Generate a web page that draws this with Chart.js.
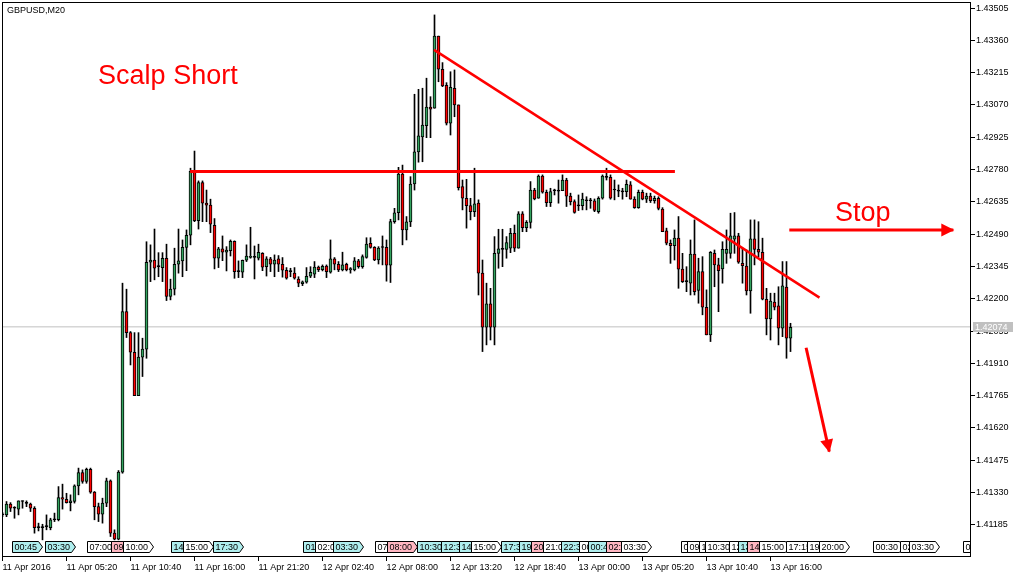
<!DOCTYPE html>
<html>
<head>
<meta charset="utf-8">
<title>GBPUSD,M20</title>
<script src="https://cdn.jsdelivr.net/npm/chart.js@4.4.1/dist/chart.umd.min.js"></script>
<style>
  html, body { margin: 0; padding: 0; background: #fff; }
  #wrap { width: 1023px; height: 578px; }
</style>
</head>
<body>
<div id="wrap"><canvas id="chart" width="1023" height="578"></canvas></div>
<script>
const symbolName = "GBPUSD,M20";

// one candle every 20 minutes, starting 11 Apr 2016 00:00
const openP = [
  1.41232,1.41230,1.41278,1.41262,1.41256,1.41291,1.41283,1.41278,1.41260,1.41174,
  1.41173,1.41177,1.41173,1.41208,1.41208,1.41308,1.41300,1.41285,1.41290,1.41360,
  1.41420,1.41380,1.41435,1.41332,1.41267,1.41233,1.41283,1.41383,1.41148,1.41121,
  1.41422,1.42142,1.42048,1.41960,1.41765,1.41938,1.41974,1.42364,1.42374,1.42344,
  1.42340,1.42382,1.42210,1.42243,1.42355,1.42370,1.42431,1.42485,1.42772,1.42551,
  1.42721,1.42629,1.42620,1.42530,1.42382,1.42424,1.42409,1.42416,1.42458,1.42322,
  1.42319,1.42373,1.42386,1.42387,1.42382,1.42404,1.42344,1.42379,1.42355,1.42379,
  1.42355,1.42328,1.42322,1.42315,1.42288,1.42268,1.42274,1.42301,1.42310,1.42342,
  1.42331,1.42347,1.42319,1.42379,1.42355,1.42330,1.42355,1.42330,1.42330,1.42370,
  1.42344,1.42386,1.42449,1.42431,1.42374,1.42430,1.42431,1.42351,1.42546,1.42586,
  1.42760,1.42509,1.42545,1.42715,1.42859,1.42926,1.42977,1.43060,1.43056,1.43379,
  1.43230,1.43158,1.42988,1.43145,1.43070,1.42703,1.42651,1.42618,1.42591,1.42629,
  1.42315,1.42072,1.42177,1.42072,1.42404,1.42423,1.42422,1.42427,1.42494,1.42427,
  1.42581,1.42519,1.42543,1.42688,1.42651,1.42751,1.42678,1.42631,1.42686,1.42684,
  1.42685,1.42733,1.42661,1.42636,1.42618,1.42618,1.42641,1.42640,1.42640,1.42591,
  1.42651,1.42746,1.42745,1.42689,1.42684,1.42680,1.42681,1.42711,1.42647,1.42609,
  1.42678,1.42647,1.42661,1.42640,1.42651,1.42603,1.42505,1.42449,1.42438,1.42472,
  1.42333,1.42278,1.42270,1.42401,1.42237,1.42322,1.42162,1.42038,1.42404,1.42352,
  1.42334,1.42404,1.42404,1.42467,1.42482,1.42359,1.42347,1.42235,1.42469,1.42422,
  1.42409,1.42198,1.42110,1.42185,1.42168,1.42068,1.42252,1.42023
];
const highP = [
  1.41240,1.41290,1.41285,1.41267,1.41293,1.41293,1.41293,1.41283,1.41267,1.41193,
  1.41188,1.41230,1.41215,1.41238,1.41357,1.41368,1.41327,1.41320,1.41365,1.41440,
  1.41432,1.41440,1.41440,1.41335,1.41283,1.41305,1.41395,1.41387,1.41163,1.41429,
  1.42270,1.42243,1.42053,1.42048,1.42048,1.42023,1.42456,1.42442,1.42513,1.42407,
  1.42407,1.42445,1.42288,1.42427,1.42513,1.42464,1.42509,1.42786,1.42863,1.42729,
  1.42729,1.42688,1.42647,1.42560,1.42431,1.42482,1.42434,1.42464,1.42460,1.42370,
  1.42374,1.42442,1.42521,1.42437,1.42445,1.42407,1.42389,1.42386,1.42397,1.42394,
  1.42385,1.42340,1.42337,1.42340,1.42299,1.42280,1.42340,1.42344,1.42367,1.42347,
  1.42352,1.42352,1.42464,1.42385,1.42367,1.42409,1.42360,1.42340,1.42385,1.42377,
  1.42397,1.42474,1.42474,1.42434,1.42434,1.42482,1.42464,1.42557,1.42606,1.42790,
  1.42800,1.42569,1.42748,1.43118,1.43140,1.43145,1.43190,1.43107,1.43474,1.43379,
  1.43260,1.43170,1.43219,1.43227,1.43070,1.42733,1.42736,1.42651,1.42786,1.42644,
  1.42374,1.42270,1.42247,1.42479,1.42512,1.42512,1.42479,1.42516,1.42531,1.42591,
  1.42591,1.42551,1.42726,1.42696,1.42756,1.42756,1.42688,1.42696,1.42692,1.42733,
  1.42756,1.42741,1.42674,1.42644,1.42666,1.42674,1.42658,1.42651,1.42648,1.42658,
  1.42756,1.42786,1.42756,1.42733,1.42711,1.42696,1.42733,1.42726,1.42658,1.42688,
  1.42688,1.42674,1.42674,1.42661,1.42658,1.42609,1.42517,1.42464,1.42509,1.42569,
  1.42404,1.42344,1.42464,1.42554,1.42382,1.42389,1.42240,1.42412,1.42419,1.42382,
  1.42456,1.42509,1.42584,1.42587,1.42494,1.42427,1.42419,1.42554,1.42554,1.42546,
  1.42472,1.42247,1.42225,1.42225,1.42254,1.42367,1.42367,1.42090
];
const lowP = [
  1.41222,1.41222,1.41245,1.41215,1.41230,1.41260,1.41267,1.41245,1.41148,1.41158,
  1.41118,1.41163,1.41163,1.41200,1.41203,1.41256,1.41283,1.41248,1.41283,1.41320,
  1.41372,1.41372,1.41327,1.41208,1.41200,1.41193,1.41267,1.41133,1.41118,1.41118,
  1.41417,1.42026,1.41903,1.41765,1.41765,1.41851,1.41933,1.42277,1.42285,1.42299,
  1.42277,1.42192,1.42195,1.42217,1.42315,1.42299,1.42326,1.42442,1.42546,1.42513,
  1.42546,1.42546,1.42497,1.42334,1.42340,1.42371,1.42325,1.42392,1.42292,1.42295,
  1.42295,1.42367,1.42382,1.42289,1.42374,1.42326,1.42302,1.42322,1.42299,1.42322,
  1.42297,1.42288,1.42299,1.42288,1.42254,1.42259,1.42270,1.42295,1.42295,1.42322,
  1.42325,1.42295,1.42315,1.42330,1.42322,1.42325,1.42325,1.42315,1.42325,1.42337,
  1.42337,1.42382,1.42427,1.42371,1.42356,1.42352,1.42279,1.42273,1.42539,1.42554,
  1.42442,1.42464,1.42524,1.42688,1.42813,1.42815,1.42923,1.42923,1.43055,1.43174,
  1.43152,1.42980,1.42935,1.43017,1.42688,1.42599,1.42517,1.42554,1.42569,1.42217,
  1.41963,1.41993,1.42015,1.41993,1.42337,1.42344,1.42382,1.42407,1.42412,1.42427,
  1.42501,1.42501,1.42517,1.42644,1.42651,1.42674,1.42614,1.42614,1.42666,1.42629,
  1.42685,1.42614,1.42621,1.42584,1.42596,1.42599,1.42599,1.42606,1.42591,1.42584,
  1.42647,1.42733,1.42647,1.42644,1.42658,1.42647,1.42658,1.42647,1.42606,1.42606,
  1.42644,1.42632,1.42632,1.42629,1.42599,1.42501,1.42442,1.42359,1.42374,1.42247,
  1.42273,1.42232,1.42217,1.42217,1.42180,1.42128,1.42038,1.42008,1.42254,1.42142,
  1.42270,1.42359,1.42382,1.42404,1.42359,1.42270,1.42217,1.42135,1.42352,1.42389,
  1.42195,1.42038,1.42015,1.42150,1.41993,1.42030,1.41933,1.41963
];
const closeP = [
  1.41230,1.41278,1.41260,1.41260,1.41293,1.41290,1.41282,1.41260,1.41173,1.41173,
  1.41174,1.41178,1.41208,1.41209,1.41308,1.41300,1.41285,1.41293,1.41360,1.41420,
  1.41380,1.41435,1.41332,1.41267,1.41233,1.41283,1.41383,1.41148,1.41121,1.41422,
  1.42142,1.42048,1.41960,1.41765,1.41938,1.41974,1.42364,1.42374,1.42337,1.42345,
  1.42382,1.42210,1.42243,1.42355,1.42370,1.42431,1.42485,1.42772,1.42551,1.42721,
  1.42629,1.42620,1.42535,1.42382,1.42424,1.42409,1.42419,1.42458,1.42322,1.42323,
  1.42373,1.42392,1.42391,1.42386,1.42409,1.42342,1.42379,1.42355,1.42374,1.42355,
  1.42328,1.42292,1.42323,1.42292,1.42270,1.42276,1.42301,1.42319,1.42342,1.42331,
  1.42346,1.42322,1.42379,1.42355,1.42330,1.42352,1.42330,1.42335,1.42370,1.42344,
  1.42389,1.42445,1.42431,1.42374,1.42427,1.42431,1.42351,1.42546,1.42586,1.42760,
  1.42509,1.42545,1.42715,1.42859,1.42931,1.42980,1.43060,1.43051,1.43379,1.43230,
  1.43155,1.42988,1.43149,1.43070,1.42699,1.42651,1.42618,1.42591,1.42626,1.42315,
  1.42072,1.42177,1.42072,1.42404,1.42424,1.42422,1.42452,1.42494,1.42427,1.42581,
  1.42519,1.42543,1.42688,1.42648,1.42751,1.42678,1.42631,1.42681,1.42685,1.42683,
  1.42733,1.42661,1.42636,1.42588,1.42617,1.42647,1.42640,1.42641,1.42596,1.42651,
  1.42751,1.42745,1.42651,1.42688,1.42683,1.42681,1.42714,1.42647,1.42609,1.42678,
  1.42647,1.42661,1.42640,1.42651,1.42606,1.42501,1.42449,1.42438,1.42472,1.42333,
  1.42277,1.42277,1.42401,1.42232,1.42322,1.42162,1.42038,1.42409,1.42352,1.42326,
  1.42422,1.42422,1.42482,1.42482,1.42364,1.42349,1.42235,1.42469,1.42422,1.42409,
  1.42198,1.42110,1.42190,1.42162,1.42068,1.42258,1.42023,1.42072
];

const xTickLabels = ["11 Apr 2016", "11 Apr 05:20", "11 Apr 10:40", "11 Apr 16:00", "11 Apr 21:20",
  "12 Apr 02:40", "12 Apr 08:00", "12 Apr 13:20", "12 Apr 18:40", "13 Apr 00:00",
  "13 Apr 05:20", "13 Apr 10:40", "13 Apr 16:00"];
const xTickStep = 16; // candles between labels
const yTicks = [1.41185, 1.41330, 1.41475, 1.41620, 1.41765, 1.41910, 1.42055, 1.42200, 1.42345,
  1.42490, 1.42635, 1.42780, 1.42925, 1.43070, 1.43215, 1.43360, 1.43505];
const lastPrice = 1.42074;

// drawn objects: [candle index, price]
const resistanceLine = [[46.9, 1.42771], [168.1, 1.42771]];
const trendLine = [[107.9, 1.43317], [204.25, 1.42205]];
const stopArrow = [[196.7, 1.42509], [237.7, 1.42509]];
const downArrow = [[200.9, 1.41980], [206.7, 1.41514]];

const noteTexts = ["Scalp Short", "Stop"];
const noteIdx = [23.9, 208.1];
const notePrices = [1.43166, 1.42549];

// session / news markers along the bottom
const eventDays = [11, 11, 11, 11, 11, 11, 11, 11,
  12, 12, 12, 12, 12, 12, 12, 12, 12, 12, 12, 12, 12, 12,
  13, 13, 13, 13, 13, 13, 13, 13, 13, 13, 13, 13, 13, 13, 13,
  14, 14, 14, 14];
const eventTimes = ["00:45", "03:30", "07:00", "09:00", "10:00", "14:00", "15:00", "17:30",
  "01:00", "02:00", "03:30", "07:00", "08:00", "10:30", "12:30", "14:00", "15:00", "17:30", "19:00", "20:00", "21:00", "22:30",
  "00:00", "00:45", "02:15", "03:30", "08:30", "09:00", "10:00", "10:30", "12:30", "13:15", "14:00", "15:00", "17:15", "19:00", "20:00",
  "00:30", "02:45", "03:30", "08:00"];
const eventKinds = ["c", "c", "w", "p", "w", "c", "w", "c",
  "c", "w", "c", "w", "p", "c", "c", "c", "w", "c", "c", "p", "w", "c",
  "w", "c", "p", "w", "w", "w", "w", "w", "w", "c", "p", "w", "w", "w", "w",
  "w", "w", "w", "w"];

const GREEN = "#33a35f";
const RED = "#ff0000";
const boxFill = { c: "#afeeee", p: "#ffb6c1", w: "#ffffff" };
const FONT = "'Liberation Sans', Arial, sans-serif";

const xMin = -0.125;
const xMax = 242.125;

const idx = openP.map((_, i) => i);
const bodyColors = openP.map((o, i) => {
  if (Math.abs(closeP[i] - o) < 0.000025) return "#000000";
  return closeP[i] > o ? GREEN : RED;
});

const toXY = (arr) => arr.map((p) => ({ x: p[0], y: p[1] }));

const lineSet = (pts, width) => ({
  type: "line",
  data: toXY(pts),
  borderColor: RED,
  borderWidth: width,
  pointRadius: 0,
  borderCapStyle: "butt",
  order: 0,
});

const overlay = {
  id: "overlay",
  afterDatasetsDraw(chart) {
    const { ctx, chartArea: a, scales } = chart;
    const xs = scales.x, ys = scales.y;
    ctx.save();
    ctx.beginPath();
    ctx.rect(a.left, a.top, a.right - a.left, a.bottom - a.top);
    ctx.clip();

    // arrow heads
    ctx.fillStyle = RED;
    [stopArrow, downArrow].forEach((arr) => {
      const x0 = xs.getPixelForValue(arr[0][0]), y0 = ys.getPixelForValue(arr[0][1]);
      const x1 = xs.getPixelForValue(arr[1][0]), y1 = ys.getPixelForValue(arr[1][1]);
      const ang = Math.atan2(y1 - y0, x1 - x0);
      const c = Math.cos(ang), s = Math.sin(ang);
      ctx.beginPath();
      ctx.moveTo(x1 + c, y1 + s);
      ctx.lineTo(x1 - 12 * c + 6.5 * s, y1 - 12 * s - 6.5 * c);
      ctx.lineTo(x1 - 12 * c - 6.5 * s, y1 - 12 * s + 6.5 * c);
      ctx.closePath();
      ctx.fill();
    });

    // text notes
    ctx.font = "27px " + FONT;
    ctx.textBaseline = "alphabetic";
    ctx.textAlign = "left";
    noteTexts.forEach((t, j) => {
      ctx.fillText(t, xs.getPixelForValue(noteIdx[j]), ys.getPixelForValue(notePrices[j]));
    });

    // session markers
    ctx.font = "9px " + FONT;
    ctx.textBaseline = "middle";
    const top = a.bottom - 15.5, bot = a.bottom - 4.5, mid = (top + bot) / 2;
    eventDays.forEach((d, j) => {
      const [hh, mm] = eventTimes[j].split(":").map(Number);
      const k = ((d - 11) * 1440 + hh * 60 + mm) / 20;
      const x0 = Math.round(xs.getPixelForValue(k)) + 0.5;
      const w = Math.round(ctx.measureText(eventTimes[j]).width) + 3;
      ctx.beginPath();
      ctx.moveTo(x0, top);
      ctx.lineTo(x0 + w, top);
      ctx.lineTo(x0 + w + 4, mid);
      ctx.lineTo(x0 + w, bot);
      ctx.lineTo(x0, bot);
      ctx.closePath();
      ctx.fillStyle = boxFill[eventKinds[j]];
      ctx.fill();
      ctx.strokeStyle = "#000";
      ctx.lineWidth = 1;
      ctx.stroke();
      ctx.fillStyle = "#000";
      ctx.fillText(eventTimes[j], x0 + 2, mid + 0.5);
    });
    ctx.restore();
  },
  afterDraw(chart) {
    const { ctx, chartArea: a, scales } = chart;
    ctx.save();
    // frame
    ctx.strokeStyle = "#000";
    ctx.lineWidth = 1;
    ctx.strokeRect(a.left + 0.5, a.top + 0.5, a.right - a.left - 1, a.bottom - a.top - 1);

    // symbol name
    ctx.fillStyle = "#000";
    ctx.font = "9px " + FONT;
    ctx.textBaseline = "alphabetic";
    ctx.fillText(symbolName, 7, 12.5);

    // last price label
    const py = Math.round(scales.y.getPixelForValue(lastPrice));
    ctx.fillStyle = "#c0c0c0";
    ctx.fillRect(a.right + 2, py - 5, 40, 10);
    ctx.fillStyle = "#ffffff";
    ctx.textBaseline = "middle";
    ctx.fillText(lastPrice.toFixed(5), a.right + 4, py + 0.5);
    ctx.restore();
  },
};

new Chart(document.getElementById("chart").getContext("2d"), {
  type: "bar",
  data: {
    datasets: [
      {
        type: "line",
        data: [{ x: xMin, y: lastPrice }, { x: xMax, y: lastPrice }],
        borderColor: "#c0c0c0",
        borderWidth: 1,
        pointRadius: 0,
        order: 5,
      },
      {
        label: "wick",
        data: idx.map((i) => ({ x: i, y: [lowP[i], highP[i]] })),
        backgroundColor: "#000000",
        barThickness: 1,
        grouped: false,
        order: 2,
      },
      {
        label: "body",
        data: idx.map((i) => ({ x: i, y: [openP[i], closeP[i]] })),
        backgroundColor: bodyColors,
        borderColor: "#000000",
        borderWidth: 1,
        borderSkipped: false,
        barThickness: 3,
        minBarLength: 1,
        grouped: false,
        order: 1,
      },
      lineSet(resistanceLine, 3),
      lineSet(trendLine, 2.5),
      lineSet(stopArrow, 3),
      lineSet(downArrow, 3),
    ],
  },
  options: {
    responsive: false,
    animation: false,
    devicePixelRatio: 1,
    layout: { padding: { left: 2, top: 2, right: 0, bottom: 0 } },
    plugins: { legend: { display: false }, tooltip: { enabled: false } },
    scales: {
      x: {
        type: "linear",
        min: xMin,
        max: xMax,
        offset: false,
        afterBuildTicks: (s) => {
          s.ticks = xTickLabels.map((_, j) => ({ value: j * xTickStep }));
        },
        ticks: {
          autoSkip: false,
          maxRotation: 0,
          align: "start",
          padding: 1,
          color: "#000",
          font: { family: FONT, size: 9 },
          callback: (v, j) => xTickLabels[j],
        },
        grid: { offset: false, drawOnChartArea: false, drawTicks: true, tickLength: 4, color: "#000" },
        border: { display: false },
        afterFit: (s) => {
          s.height = 21;
          s.paddingLeft = 0;
          s.paddingRight = 0;
        },
      },
      y: {
        position: "right",
        min: 1.41041,
        max: 1.43532,
        afterBuildTicks: (s) => {
          s.ticks = yTicks.map((v) => ({ value: v }));
        },
        ticks: {
          autoSkip: false,
          padding: 1,
          color: "#000",
          font: { family: FONT, size: 9 },
          callback: (v) => Number(v).toFixed(5),
        },
        grid: { drawOnChartArea: false, drawTicks: true, tickLength: 4, color: "#000" },
        border: { display: false },
        afterFit: (s) => {
          s.width = 52;
          s.paddingTop = 0;
          s.paddingBottom = 0;
        },
      },
    },
  },
  plugins: [overlay],
});
</script>
</body>
</html>
